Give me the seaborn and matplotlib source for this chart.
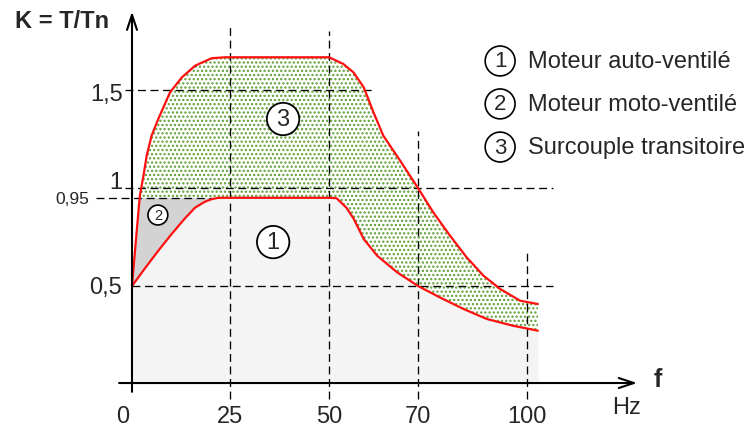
import numpy as np
import pandas as pd
import matplotlib
matplotlib.use("Agg")
import matplotlib.pyplot as plt
import seaborn as sns

# values (f in Hz, K = T/Tn)
f_lower = [0, 3.3, 6.7, 10.1, 13.5, 16.1, 18.6, 20.3, 22, 50, 51.7, 53.9, 55.5, 57.8,
           60.8, 65.3, 70, 76, 82.5, 88.9, 96.2, 103]
k_lower = [0.5, 0.59, 0.68, 0.765, 0.845, 0.90, 0.93, 0.943, 0.95, 0.95, 0.948, 0.90,
           0.845, 0.74, 0.655, 0.57, 0.5, 0.442, 0.383, 0.332, 0.297, 0.272]

f_upper = [0, 1.2, 2.0, 2.9, 3.75, 5.0, 6.7, 9.7, 12.7, 16.1, 20.3, 23.7, 50, 53.2, 55.5,
           57.8, 60, 62.2, 66, 70, 74.2, 78.8, 83.4, 88, 92.6, 98.1, 103]
k_upper = [0.5, 0.78, 0.96, 1.06, 1.165, 1.267, 1.352, 1.488, 1.564, 1.624, 1.662, 1.667,
           1.667, 1.633, 1.59, 1.514, 1.386, 1.267, 1.139, 1.0, 0.876, 0.757, 0.646,
           0.553, 0.485, 0.425, 0.408]

x_ticks = [0, 25, 50, 70, 100]
x_tick_labels = ["0", "25", "50", "70", "100"]
y_ticks = [0.5, 0.95, 1, 1.5]
y_tick_labels = ["0,5", "0,95", "1", "1,5"]

legend_nums = ["1", "2", "3"]
legend_texts = ["Moteur auto-ventilé", "Moteur moto-ventilé", "Surcouple transitoire"]

# the drawing is schematic: tick spacing is not uniform in Hz
KNOT_HZ = [-100, 0, 25, 50, 70, 100, 300]
KNOT_PX = [132 - 392, 132, 230, 329, 418, 527, 527 + 200 * 3.633]

def fwd(x):
    return np.interp(x, KNOT_HZ, KNOT_PX)

def inv(p):
    return np.interp(p, KNOT_PX, KNOT_HZ)

sns.set_theme(style="white")
plt.rcParams["font.family"] = ["Liberation Sans", "DejaVu Sans"]
plt.rcParams["hatch.linewidth"] = 1.1

fig = plt.figure(figsize=(7.5, 4.27), dpi=100)
ax = fig.add_axes([0, 0, 1, 1])
ax.set_xscale("function", functions=(fwd, inv))
ax.set_xlim(inv(0), inv(750))
ax.set_ylim(-42 / 196, 385 / 196)
ax.axis("off")

RED = "#ff1010"
DASH = dict(color="black", lw=0.95, linestyle=(0, (6, 3.5)), zorder=3)

# 1: area under the self-ventilated motor curve
ax.fill_between(f_lower, 0, k_lower, color="#f4f4f4", lw=0, zorder=1)

# crossing of the upper curve with K = 0.95
f_c = np.interp(0.95, k_upper[:3], f_upper[:3])

# 2: forced-ventilation extra
reg2_f = f_lower[:9] + [f_c] + f_upper[1::-1]
reg2_k = k_lower[:9] + [0.95] + k_upper[1::-1]
ax.fill(reg2_f, reg2_k, color="#d3d3d3", lw=0, zorder=1.5)

# 3: transient overtorque
reg3_f = [f_c] + f_upper[2:] + f_lower[:7:-1]
reg3_k = [0.95] + k_upper[2:] + k_lower[:7:-1]
ax.fill(reg3_f, reg3_k, facecolor="white", edgecolor="#5e9e34", hatch="....", lw=0, zorder=1.5)

# dashed guides
ax.plot([0, 107.2], [0.5, 0.5], **DASH)
ax.plot([-9.2, 20.5], [0.95, 0.95], **DASH)
ax.plot([-1.8, 107.2], [1, 1], **DASH)
ax.plot([-1.8, 59.7], [1.5, 1.5], **DASH)
ax.plot([25, 25], [-0.077, 1.82], **DASH)
ax.plot([50, 50], [-0.077, 1.80], **DASH)
ax.plot([70, 70], [-0.077, 1.29], **DASH)
ax.plot([100, 100], [-0.077, 0.67], **DASH)

# red limit curves
curves = pd.DataFrame({"f": f_lower + f_upper,
                       "K": k_lower + k_upper,
                       "curve": ["lower"] * len(f_lower) + ["upper"] * len(f_upper)})
sns.lineplot(data=curves, x="f", y="K", units="curve", estimator=None, sort=False,
             color=RED, lw=1.6, ax=ax, zorder=4)

# axes with arrows
arrow = dict(arrowstyle="->,head_length=0.9,head_width=0.3", color="black", lw=1.5,
             shrinkA=0, shrinkB=0)
ax.annotate("", xy=(130.3, 0.005), xytext=(-3.3, 0.005), arrowprops=arrow, zorder=5)
ax.annotate("", xy=(0, 1.90), xytext=(0, -0.04), arrowprops=arrow, zorder=5)

# tick labels
for v, lab in zip(x_ticks, x_tick_labels):
    xv = -2.3 if v == 0 else v
    ax.text(xv, -0.162, lab, ha="center", va="center", fontsize=17)
y_pos = {"0,5": (-2.5, 0.495, 17), "0,95": (-11, 0.944, 12.5),
         "1": (-2.5, 1.03, 17), "1,5": (-2.3, 1.48, 17)}
for v, lab in zip(y_ticks, y_tick_labels):
    xx, yy, fs = y_pos[lab]
    ax.text(xx, yy, lab, ha="right", va="center", fontsize=fs)

ax.text(-17.9, 1.857, "K = T/Tn", ha="center", va="center", fontsize=17, fontweight="bold")
ax.text(136, 0.026, "f", ha="center", va="center", fontsize=18, fontweight="bold")
ax.text(127.5, -0.117, "Hz", ha="center", va="center", fontsize=17)

# numbered circles inside the regions
circ = dict(boxstyle="circle,pad=0.22", fc="white", ec="black", lw=1.3)
ax.text(38.4, 1.352, "3", ha="center", va="center", fontsize=17, bbox=circ, zorder=6)
ax.text(35.9, 0.724, "1", ha="center", va="center", fontsize=17, bbox=circ, zorder=6)
ax.text(6.6, 0.862, "2", ha="center", va="center", fontsize=10.5,
        bbox=dict(boxstyle="circle,pad=0.2", fc="white", ec="black", lw=1.2), zorder=6)

# legend
leg_circ = dict(boxstyle="circle,pad=0.2", fc="white", ec="black", lw=1.2)
for i, (num, txt) in enumerate(zip(legend_nums, legend_texts)):
    yy = [1.648, 1.429, 1.209][i]
    ax.text(92.6, yy, num, ha="center", va="center", fontsize=16, bbox=leg_circ)
    ax.text(100.2, yy, txt, ha="left", va="center", fontsize=17)

fig.savefig("out.png", dpi=100)
